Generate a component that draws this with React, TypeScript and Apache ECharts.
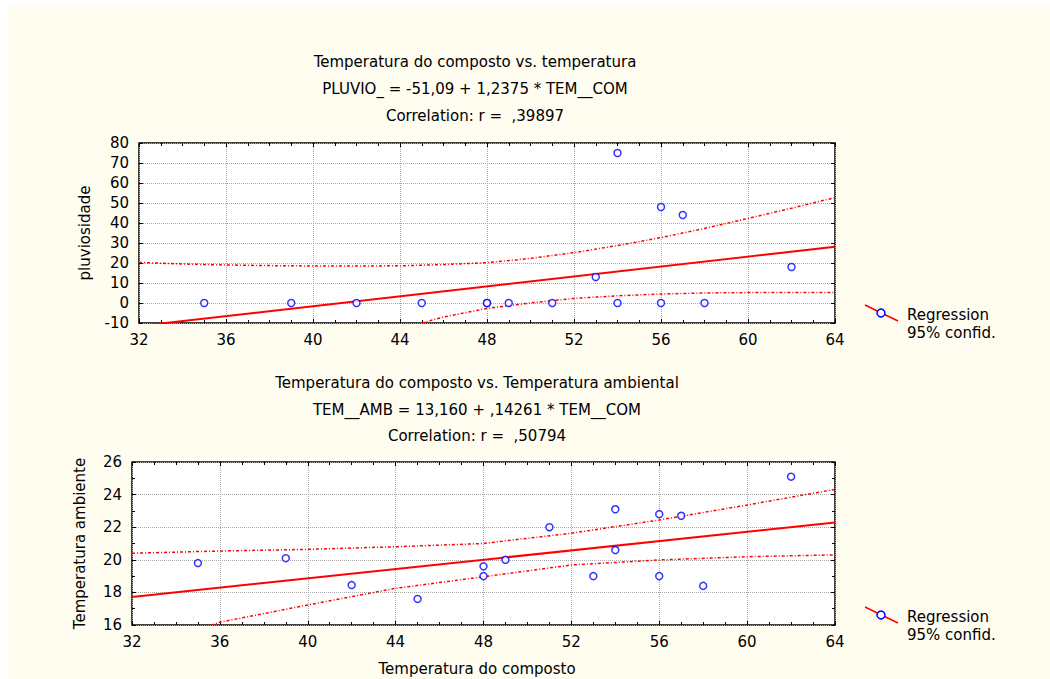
import React, { useEffect, useRef } from "react";
import * as echarts from "echarts";

// ---- data ----
const TEM_COM = [35, 39, 42, 45, 48, 48, 49, 51, 53, 54, 54, 56, 56, 57, 58, 62];
const PLUVIO = [0, 0, 0, 0, 0, 0, 0, 0, 13, 75, 0, 48, 0, 44, 0, 18];
const TEM_AMB = [19.8, 20.1, 18.45, 17.6, 19.6, 19.0, 20.0, 22.0, 19.0, 23.1, 20.6, 22.8, 19.0, 22.7, 18.4, 25.1];

const REG_X = [32, 64];
const REG_TOP = [-11.49, 28.11];
const REG_BOT = [17.72, 22.29];

const TOP_UP_X = [32, 34, 36, 38, 40, 42, 44, 46, 48, 50, 52, 54, 56, 58, 60, 62, 64];
const TOP_UP_Y = [20.3, 19.5, 19.0, 18.7, 18.5, 18.5, 18.6, 19.2, 20.2, 22.3, 25.2, 28.7, 32.7, 37.3, 42.3, 47.4, 52.7];
const TOP_LO_X = [45, 46, 48, 50, 52, 54, 56, 58, 60, 62, 64];
const TOP_LO_Y = [-10, -7, -2.7, 0.0, 2.3, 3.6, 4.5, 5.0, 5.2, 5.3, 5.3];

const BOT_UP_X = [32, 36, 40, 44, 48, 50, 52, 56, 60, 64];
const BOT_UP_Y = [20.4, 20.54, 20.64, 20.8, 21.0, 21.32, 21.63, 22.44, 23.36, 24.32];
const BOT_LO_X = [35.6, 36, 40, 44, 48, 52, 56, 60, 64];
const BOT_LO_Y = [16, 16.17, 17.23, 18.25, 18.96, 19.68, 19.99, 20.19, 20.3];

const X_TICKS = [32, 36, 40, 44, 48, 52, 56, 60, 64];

const TITLES_TOP = [
  "Temperatura do composto vs. temperatura",
  "PLUVIO_ = -51,09 + 1,2375 * TEM__COM",
  "Correlation: r =  ,39897",
];
const TITLES_BOT = [
  "Temperatura do composto vs. Temperatura ambiental",
  "TEM__AMB = 13,160 + ,14261 * TEM__COM",
  "Correlation: r =  ,50794",
];
const LEGEND = ["Regression", "95% confid."];

const FONT = "DejaVu Sans";
const FS = 15;
const RED = "#ff0000";
const BLUE = "#0000ff";

const zip = (xs: number[], ys: number[]) => xs.map((x, i) => [x, ys[i]]);

function xAxes(gridIndex: number) {
  const base = {
    gridIndex,
    type: "value" as const,
    min: X_TICKS[0],
    max: X_TICKS[X_TICKS.length - 1],
    interval: 4,
    axisLine: { show: false, onZero: false },
    axisTick: { show: true, inside: true, length: 4, lineStyle: { color: "#000" } },
    minorTick: { show: true, splitNumber: 4, length: 3, lineStyle: { color: "#000" } },
  };
  return [
    {
      ...base,
      position: "bottom",
      axisLabel: { color: "#000", fontFamily: FONT, fontSize: FS, margin: 9 },
      splitLine: { show: true, lineStyle: { color: "#a8a8a8", type: "dotted", width: 1 } },
    },
    {
      ...base,
      position: "top",
      axisLabel: { show: false },
      splitLine: { show: false },
    },
  ];
}

function yAxes(gridIndex: number, min: number, max: number, interval: number, minor: number, name: string, nameGap: number) {
  const base = {
    gridIndex,
    type: "value" as const,
    min,
    max,
    interval,
    axisLine: { show: false, onZero: false },
    axisTick: { show: true, inside: true, length: 4, lineStyle: { color: "#000" } },
    minorTick: { show: minor > 1, splitNumber: minor, length: 3, lineStyle: { color: "#000" } },
  };
  return [
    {
      ...base,
      position: "left",
      name,
      nameLocation: "middle",
      nameGap,
      nameRotate: 90,
      nameTextStyle: { color: "#000", fontFamily: FONT, fontSize: FS },
      axisLabel: { color: "#000", fontFamily: FONT, fontSize: FS, margin: 10 },
      splitLine: { show: true, lineStyle: { color: "#a8a8a8", type: "dotted", width: 1 } },
    },
    {
      ...base,
      position: "right",
      axisLabel: { show: false },
      splitLine: { show: false },
    },
  ];
}

function textEl(text: string, x: number, y: number, align = "center") {
  return {
    type: "text",
    x,
    y,
    style: {
      text,
      fill: "#000",
      font: `${FS}px "${FONT}"`,
      textAlign: align,
      textVerticalAlign: "middle",
    },
    z: 10,
  };
}

function legendEls(y0: number) {
  return [
    {
      type: "line",
      shape: { x1: 865, y1: y0 - 8, x2: 898, y2: y0 + 8 },
      style: { stroke: RED, lineWidth: 1.5 },
      z: 10,
    },
    {
      type: "circle",
      shape: { cx: 881, cy: y0, r: 4 },
      style: { fill: "#fff", stroke: BLUE, lineWidth: 1.5 },
      z: 11,
    },
    textEl(LEGEND[0], 907, y0 + 2, "left"),
    textEl(LEGEND[1], 907, y0 + 20, "left"),
  ];
}

function bandSeries(data: number[][], xi: number, yi: number) {
  return {
    type: "line",
    xAxisIndex: xi,
    yAxisIndex: yi,
    data,
    symbol: "none",
    clip: true,
    lineStyle: { color: RED, width: 1.5, type: [3, 2, 1, 2] },
    z: 3,
  };
}

export default function App() {
  const ref = useRef<HTMLDivElement>(null);
  useEffect(() => {
    document.body.style.margin = "0";
    const chart = echarts.init(ref.current!, null, { renderer: "svg" });
    const gridStyle = { show: true, backgroundColor: "#fff", borderColor: "#000", borderWidth: 1.5 };
    chart.setOption({
      animation: false,
      backgroundColor: "#fffcf0",
      grid: [
        { ...gridStyle, left: 139, width: 696, top: 143, height: 180 },
        { ...gridStyle, left: 132, width: 703, top: 462, height: 163 },
      ],
      xAxis: [...xAxes(0), ...xAxes(1)],
      yAxis: [
        ...yAxes(0, -10, 80, 10, 0, "pluviosidade", 47),
        ...yAxes(1, 16, 26, 2, 2, "Temperatura ambiente", 45),
      ],
      series: [
        {
          type: "scatter",
          xAxisIndex: 0,
          yAxisIndex: 0,
          data: zip(TEM_COM, PLUVIO),
          symbol: "circle",
          symbolSize: 7,
          itemStyle: { color: "#fff", borderColor: BLUE, borderWidth: 1.5 },
          z: 5,
        },
        {
          type: "line",
          xAxisIndex: 0,
          yAxisIndex: 0,
          data: zip(REG_X, REG_TOP),
          symbol: "none",
          clip: true,
          lineStyle: { color: RED, width: 2 },
          z: 4,
        },
        bandSeries(zip(TOP_UP_X, TOP_UP_Y), 0, 0),
        bandSeries(zip(TOP_LO_X, TOP_LO_Y), 0, 0),
        {
          type: "scatter",
          xAxisIndex: 2,
          yAxisIndex: 2,
          data: zip(TEM_COM, TEM_AMB),
          symbol: "circle",
          symbolSize: 7,
          itemStyle: { color: "#fff", borderColor: BLUE, borderWidth: 1.5 },
          z: 5,
        },
        {
          type: "line",
          xAxisIndex: 2,
          yAxisIndex: 2,
          data: zip(REG_X, REG_BOT),
          symbol: "none",
          clip: true,
          lineStyle: { color: RED, width: 2 },
          z: 4,
        },
        bandSeries(zip(BOT_UP_X, BOT_UP_Y), 2, 2),
        bandSeries(zip(BOT_LO_X, BOT_LO_Y), 2, 2),
      ],
      graphic: [
        { type: "rect", shape: { x: 0, y: 0, width: 7, height: 679 }, style: { fill: "#fff" }, z: 0 },
        { type: "rect", shape: { x: 0, y: 0, width: 1050, height: 6 }, style: { fill: "#fff" }, z: 0 },
        textEl(TITLES_TOP[0], 475, 62),
        textEl(TITLES_TOP[1], 475, 89),
        textEl(TITLES_TOP[2], 475, 116),
        textEl(TITLES_BOT[0], 477, 383),
        textEl(TITLES_BOT[1], 477, 410),
        textEl(TITLES_BOT[2], 477, 436),
        textEl("Temperatura do composto", 477, 669),
        ...legendEls(313),
        ...legendEls(615),
      ],
    });
    return () => chart.dispose();
  }, []);
  return <div ref={ref} style={{ width: 1050, height: 679 }} />;
}
